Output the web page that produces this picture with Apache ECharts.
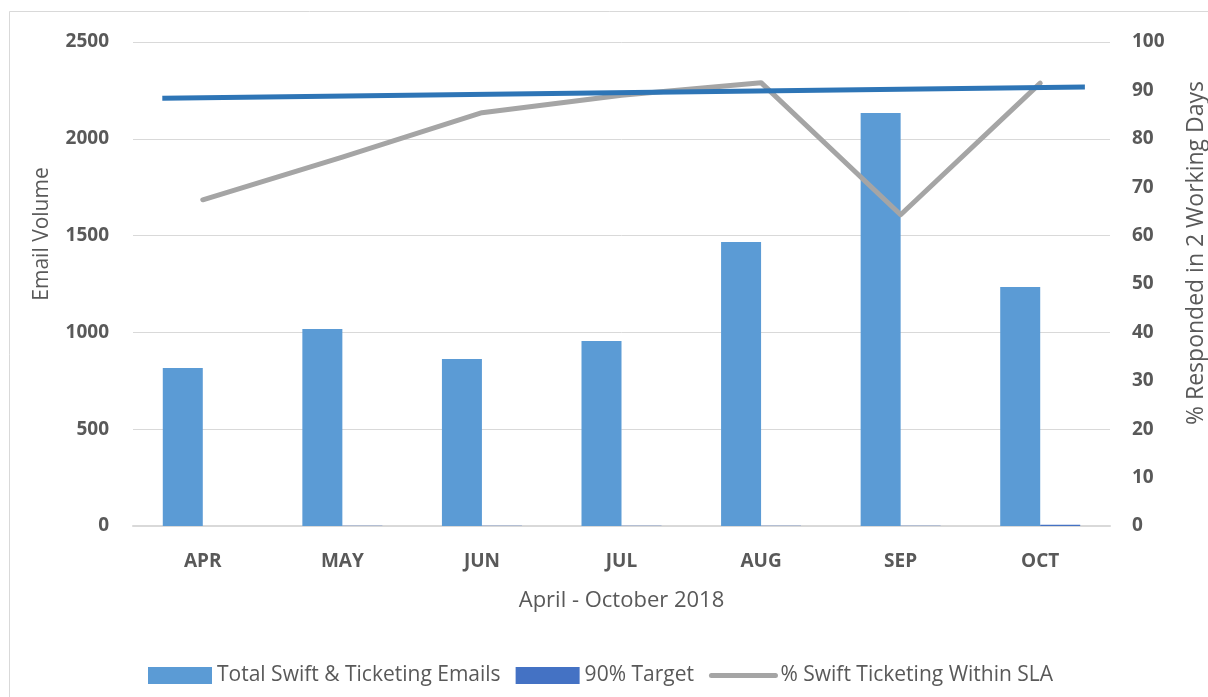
<!DOCTYPE html>
<html>
<head>
<meta charset="utf-8">
<script src="https://cdn.jsdelivr.net/npm/echarts@6/dist/echarts.min.js"></script>
<style>
  html, body { margin: 0; padding: 0; background: #fff; }
  #chart { width: 1208px; height: 697px; }
</style>
</head>
<body>
<div id="chart"></div>
<script>
// categories and values
var months = ['APR', 'MAY', 'JUN', 'JUL', 'AUG', 'SEP', 'OCT']
var totalEmails = [816, 1017, 862, 955, 1467, 2133, 1235]
var targetBars = [0, 1, 1, 1, 1, 1, 6]
var slaPercent = [67.4, 76.2, 85.4, 89, 91.6, 64.3, 91.5]
// straight target line, x in category units (0 = left edge of APR)
var targetLineX = [0.21, 6.82]
var targetLineY = [88.4, 90.7]

var textColor = '#595959'
var font = '"Open Sans", Lato, sans-serif'

var chart = echarts.init(document.getElementById('chart'))

chart.setOption({
  animation: false,
  backgroundColor: '#fff',
  textStyle: { fontFamily: font },
  graphic: [
    {
      type: 'rect',
      shape: { x: 9.5, y: 11.5, width: 1300, height: 800 },
      style: { fill: 'none', stroke: '#D9D9D9', lineWidth: 1 },
      silent: true
    }
  ],
  grid: {
    left: 133,
    right: 98,
    top: 42,
    bottom: 171,
    containLabel: false,
    outerBoundsMode: 'none'
  },
  legend: {
    bottom: 6,
    left: 143,
    itemWidth: 64,
    itemHeight: 17,
    itemGap: 15,
    textStyle: { color: textColor, fontSize: 21, fontFamily: font },
    data: [
      { name: 'Total Swift & Ticketing Emails', icon: 'rect' },
      { name: '90% Target', icon: 'rect', itemStyle: { color: '#4472C4' } },
      {
        name: '% Swift Ticketing Within SLA',
        itemStyle: { color: 'rgba(0,0,0,0)', borderWidth: 0 },
        lineStyle: { color: '#A5A5A5', width: 5, cap: 'round' }
      }
    ]
  },
  xAxis: [
    {
      type: 'category',
      data: months,
      name: 'April - October 2018',
      nameLocation: 'middle',
      nameGap: 64,
      nameTextStyle: { color: textColor, fontSize: 22 },
      axisLine: { lineStyle: { color: '#D9D9D9', width: 2 } },
      axisTick: { show: false },
      axisLabel: { color: textColor, fontSize: 19, fontWeight: 'bold', margin: 26 }
    },
    {
      type: 'value',
      min: 0,
      max: 7,
      show: false
    }
  ],
  yAxis: [
    {
      type: 'value',
      min: 0,
      max: 2500,
      interval: 500,
      name: 'Email Volume',
      nameLocation: 'middle',
      nameRotate: 90,
      nameGap: 80,
      nameTextStyle: { color: textColor, fontSize: 21, padding: [0, 0, 0, 100] },
      axisLine: { show: false },
      axisTick: { show: false },
      axisLabel: {
        color: textColor,
        fontSize: 19,
        fontWeight: 'bold',
        margin: 24,
        formatter: function (v) { return String(v) }
      },
      splitLine: { lineStyle: { color: '#D9D9D9', width: 1 } }
    },
    {
      type: 'value',
      min: 0,
      max: 100,
      interval: 10,
      position: 'right',
      name: '% Responded in 2 Working Days',
      nameLocation: 'middle',
      nameRotate: 90,
      nameGap: 75,
      nameTextStyle: { color: textColor, fontSize: 23, padding: [0, 0, 0, 62] },
      axisLine: { show: false },
      axisTick: { show: false },
      axisLabel: { color: textColor, fontSize: 19, fontWeight: 'bold', margin: 22 },
      splitLine: { show: false }
    }
  ],
  series: [
    {
      name: 'Total Swift & Ticketing Emails',
      type: 'bar',
      data: totalEmails,
      barWidth: 40,
      barGap: 0,
      itemStyle: { color: '#5B9BD5' }
    },
    {
      name: '90% Target',
      type: 'bar',
      data: targetBars,
      barWidth: 40,
      barGap: 0,
      itemStyle: { color: '#4472C4' }
    },
    {
      name: '% Swift Ticketing Within SLA',
      type: 'line',
      yAxisIndex: 1,
      data: slaPercent,
      symbol: 'none',
      lineStyle: { color: '#A5A5A5', width: 5, cap: 'round', join: 'round' },
      itemStyle: { color: '#A5A5A5' },
      z: 3
    },
    {
      name: 'trend',
      type: 'line',
      xAxisIndex: 1,
      yAxisIndex: 1,
      data: targetLineX.map(function (x, i) { return [x, targetLineY[i]] }),
      symbol: 'none',
      lineStyle: { color: '#2E75B6', width: 5 },
      itemStyle: { color: '#2E75B6' },
      z: 4
    }
  ]
})
</script>
</body>
</html>
